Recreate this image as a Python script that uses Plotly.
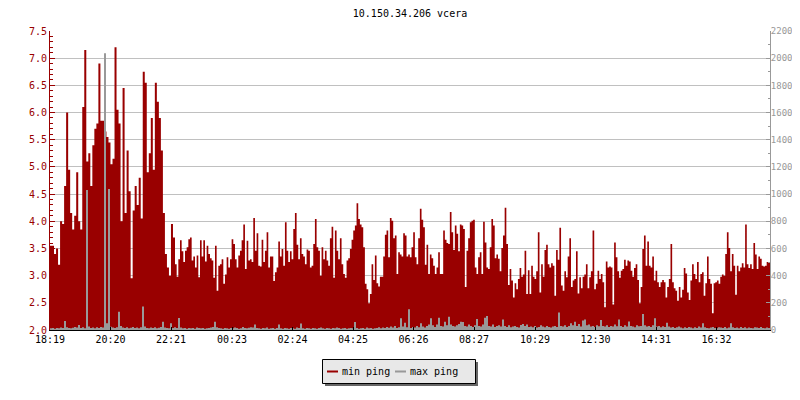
import plotly.graph_objects as go

# ---------------- data ----------------
title_text = "10.150.34.206 vcera"
start_label = "18:19"
day_minutes = 1440
tick_labels = ["18:19", "20:20", "22:21", "00:23", "02:24", "04:25",
               "06:26", "08:27", "10:29", "12:30", "14:31", "16:32"]

# min ping (left axis) in three consecutive stretches, each evenly sampled;
# spans are minutes after 18:19
min_ping_a_span = (0, 250)
min_ping_a = [
    3.55, 3.55, 3.4, 3.5, 3.2, 4.0, 3.95, 4.65, 6.0, 4.95,
    4.15, 3.85, 4.1, 4.9, 4.0, 3.85, 6.1, 7.15, 5.1, 5.25,
    4.65, 5.4, 5.7, 5.8, 6.9, 5.85, 5.85, 5.65, 5.55, 5.45,
    5.05, 5.15, 7.2, 6.05, 5.8, 4.0, 6.45, 4.15, 5.3, 4.55,
    2.95, 4.2, 4.65, 4.3, 4.8, 4.05, 6.75, 6.55, 4.9, 5.25,
    5.9, 4.95, 6.55, 6.2, 5.9, 5.3, 4.15, 3.4, 3.15, 3.0,
    3.95, 3.7,
]
min_ping_b_span = (250, 843)
min_ping_b = [
    3.21, 2.98, 3.3, 3.65, 3.45, 3.25, 3.46, 3.52, 3.67, 3.7, 3.28, 3.35, 3.15, 3.37, 2.97, 3.65, 3.35, 3.65, 3.26, 3.55,
    3.4, 3.32, 3.28, 2.96, 3.55, 2.72, 3.18, 3.21, 3.3, 2.85, 3.02, 3.34, 3.15, 3.3, 3.67, 3.58, 3.3, 3.15, 3.37, 3.46,
    3.65, 3.94, 3.12, 3.64, 3.28, 3.3, 3.25, 4.06, 3.46, 3.78, 3.18, 3.17, 3.66, 3.25, 3.46, 3.8, 3.15, 3.35, 3.35, 2.9,
    3.06, 3.15, 3.63, 3.35, 3.49, 3.18, 3.98, 3.46, 3.25, 3.45, 3.3, 3.86, 4.15, 3.57, 3.3, 3.69, 3.4, 3.35, 3.21, 3.48,
    3.46, 3.15, 3.18, 3.58, 4.04, 3.52, 3.46, 3.0, 3.52, 3.3, 3.46, 3.28, 3.18, 3.69, 3.9, 2.96, 3.83, 3.46, 3.3, 3.69,
    3.21, 3.03, 2.96, 3.28, 3.32, 3.49, 3.66, 3.83, 3.92, 4.33, 4.04, 3.94, 3.89, 3.52, 2.85, 2.75, 2.49, 2.66, 3.21, 2.92,
    3.37, 2.86, 2.8, 2.98, 2.98, 3.35, 3.75, 3.83, 3.34, 4.06, 4.01, 3.69, 3.74, 3.03, 3.43, 3.39, 3.35, 3.78, 3.74, 3.35,
    3.39, 3.34, 3.52, 3.8, 3.34, 3.21, 3.69, 4.23, 4.03, 3.89, 3.2, 3.57, 3.03, 3.39, 3.32, 3.18, 3.03, 3.15, 3.43, 3.03,
    3.03, 3.83, 3.66, 3.6, 3.58, 4.17, 3.8, 3.47, 3.92, 3.77, 3.45, 3.94, 3.92, 3.86, 2.79, 3.46, 3.69, 3.98,
]
min_ping_c_span = (843, 1440)
min_ping_c = [
    4.01, 4.03, 3.15, 3.03, 3.34, 3.43, 3.03, 3.99, 3.61, 3.15, 3.12, 3.52, 4.04, 3.92, 3.32, 3.39, 3.31, 3.08, 3.51, 3.74,
    4.25, 3.58, 2.83, 3.12, 2.91, 2.6, 2.86, 2.75, 2.94, 3.14, 2.98, 3.02, 3.46, 2.66, 3.1, 2.66, 3.18, 2.98, 2.94, 3.08,
    3.8, 2.69, 3.21, 2.98, 3.47, 3.57, 3.21, 3.15, 3.23, 3.18, 2.63, 3.47, 3.29, 3.88, 2.82, 2.72, 3.08, 2.97, 3.35, 3.69,
    2.79, 2.91, 2.94, 3.45, 2.67, 2.97, 2.77, 2.98, 3.02, 3.21, 2.77, 2.97, 3.08, 3.83, 2.75, 2.85, 3.09, 2.94, 3.03, 2.88,
    2.42, 3.26, 3.15, 3.17, 3.15, 2.47, 3.61, 3.34, 3.08, 2.96, 3.09, 3.12, 3.29, 3.18, 3.28, 3.26, 3.09, 2.98, 3.14, 3.21,
    2.92, 2.49, 2.79, 3.49, 3.74, 3.18, 3.63, 3.18, 3.15, 3.35, 2.91, 3.09, 2.88, 2.79, 2.88, 2.92, 2.88, 2.6, 2.79, 2.94,
    3.58, 2.88, 2.77, 2.72, 2.54, 2.79, 2.6, 2.74, 3.14, 3.04, 2.69, 2.55, 2.91, 3.21, 3.03, 2.94, 3.25, 2.88, 3.03, 3.06,
    2.63, 2.86, 3.35, 2.94, 2.85, 2.31, 2.86, 2.88, 2.91, 2.85, 2.98, 3.02, 3.0, 3.4, 3.8, 3.51, 3.08, 3.4, 3.18, 2.65,
    3.18, 3.08, 3.15, 3.23, 3.15, 3.94, 3.21, 3.14, 3.21, 3.12, 3.6, 3.39, 3.12, 3.35, 3.31, 3.18, 3.17, 3.18, 3.25, 3.25,
]

# max ping (right axis), 4-minute samples across the whole day
max_ping = [
    12, 15, 10, 14, 12, 18, 15, 66, 20, 14,
    12, 16, 22, 18, 37, 15, 20, 12, 1030, 25,
    14, 18, 12, 20, 15, 22, 18, 2036, 50, 1038,
    24, 18, 15, 20, 135, 30, 18, 14, 20, 12,
    16, 22, 14, 18, 12, 20, 172, 25, 15, 12,
    18, 14, 20, 12, 16, 22, 61, 18, 14, 12,
    50, 15, 20, 14, 88, 18, 12, 15, 10, 14,
    12, 15, 10, 18, 14, 12, 15, 10, 12, 14,
    18, 22, 60, 20, 15, 12, 10, 14, 12, 10,
    14, 12, 18, 15, 10, 12, 22, 14, 12, 16,
    20, 18, 40, 15, 12, 10, 14, 12, 18, 10,
    12, 15, 10, 14, 40, 12, 10, 15, 12, 10,
    14, 12, 10, 18, 15, 47, 12, 10, 14, 12,
    10, 15, 12, 10, 14, 18, 12, 10, 15, 12,
    10, 14, 12, 18, 15, 10, 12, 14, 10, 12,
    15, 12, 59, 14, 10, 12, 15, 10, 18, 12,
    14, 10, 12, 15, 20, 12, 18, 14, 22, 16,
    25, 18, 30, 15, 20, 86, 25, 54, 20, 152,
    15, 22, 18, 30, 20, 49, 25, 18, 30, 40,
    86, 35, 22, 40, 91, 30, 25, 60, 35, 98,
    40, 30, 25, 35, 45, 60, 58, 30, 25, 40,
    30, 22, 35, 81, 30, 25, 40, 91, 103, 30,
    25, 40, 22, 30, 35, 25, 78, 30, 22, 35,
    20, 25, 30, 22, 18, 37, 45, 30, 40, 22,
    25, 20, 30, 18, 22, 35, 25, 20, 30, 22,
    18, 25, 30, 22, 128, 30, 25, 35, 22, 30,
    50, 35, 60, 30, 45, 25, 70, 78, 35, 40,
    25, 30, 22, 35, 28, 74, 30, 25, 35, 22,
    30, 25, 40, 28, 78, 30, 22, 35, 25, 63,
    30, 25, 20, 35, 28, 30, 118, 35, 25, 30,
    22, 35, 86, 25, 30, 20, 28, 22, 54, 25,
    18, 22, 15, 20, 25, 18, 12, 20, 15, 22,
    18, 12, 20, 15, 25, 18, 49, 20, 15, 12,
    18, 22, 15, 12, 20, 18, 15, 22, 12, 18,
    49, 20, 15, 18, 12, 22, 15, 20, 12, 18,
    15, 12, 20, 18, 14, 22, 15, 12, 18, 15,
]

# ---------------- styling ----------------
RED = "#990000"
GRAY = "#999999"
FONT = "DejaVu Sans Mono"

# page body has an 8px margin, so the figure sits at (8, 8) on the page
OFF = 8
W, H = 800 - OFF, 400 - OFF
# plot area wanted on the page: x 50..770, y 31..330
PL, PR, PT, PB = 50, 770, 31, 330
ML, MR, MT, MB = PL - OFF, W - (PR - OFF), PT - OFF, H - (PB - OFF)


def clock_to_offset(label, start):
    h, m = map(int, label.split(":"))
    sh, sm = map(int, start.split(":"))
    d = (h * 60 + m) - (sh * 60 + sm)
    return d + day_minutes if d < 0 else d


def sample_starts(values, span):
    t0, t1 = span
    step = (t1 - t0) / len(values)
    return [t0 + i * step for i in range(len(values))]


min_x, min_y = [], []
for vals, span in ((min_ping_a, min_ping_a_span),
                   (min_ping_b, min_ping_b_span),
                   (min_ping_c, min_ping_c_span)):
    min_x += sample_starts(vals, span)
    min_y += vals
min_x.append(min_ping_c_span[1])
min_y.append(min_ping_c[-1])

max_x = sample_starts(max_ping, (0, day_minutes)) + [day_minutes]
max_y = max_ping + [max_ping[-1]]

tick_vals = [clock_to_offset(t, start_label) for t in tick_labels]

fig = go.Figure()
fig.add_trace(go.Scatter(
    x=min_x, y=min_y, mode="lines", line=dict(shape="hv", width=0, color=RED),
    fill="tozeroy", fillcolor=RED, name="min ping", showlegend=False,
    hoverinfo="skip"))
fig.add_trace(go.Scatter(
    x=max_x, y=max_y, mode="lines", line=dict(shape="hv", width=0, color=GRAY),
    fill="tozeroy", fillcolor=GRAY,
    name="max ping", yaxis="y2", showlegend=False, hoverinfo="skip"))


def fx(px):
    return (px - PL) / (PR - PL)


def fy(py):
    return (PB - py) / (PB - PT)


# legend drawn by hand (box with shadow); coordinates in page pixels
shapes = [
    dict(type="rect", xref="paper", yref="paper", layer="above",
         x0=fx(325), x1=fx(478), y0=fy(386), y1=fy(362),
         fillcolor="#666666", line=dict(width=0)),
    dict(type="rect", xref="paper", yref="paper", layer="above",
         x0=fx(322.5), x1=fx(475.5), y0=fy(383.5), y1=fy(359.5),
         fillcolor="#e8e8e8", line=dict(color="black", width=1)),
    dict(type="line", xref="paper", yref="paper", layer="above",
         x0=fx(327), x1=fx(338), y0=fy(371.5), y1=fy(371.5),
         line=dict(color=RED, width=2)),
    dict(type="line", xref="paper", yref="paper", layer="above",
         x0=fx(395), x1=fx(406), y0=fy(371.5), y1=fy(371.5),
         line=dict(color=GRAY, width=2)),
]
annotations = [
    dict(text="min ping", xref="paper", yref="paper", x=fx(340), y=fy(371),
         xanchor="left", yanchor="middle", showarrow=False,
         font=dict(family=FONT, size=10, color="black")),
    dict(text="max ping", xref="paper", yref="paper", x=fx(408), y=fy(371),
         xanchor="left", yanchor="middle", showarrow=False,
         font=dict(family=FONT, size=10, color="black")),
]

fig.update_layout(
    width=W, height=H,
    margin=dict(l=ML, r=MR, t=MT, b=MB, pad=0, autoexpand=False),
    paper_bgcolor="white", plot_bgcolor="white",
    title=dict(text=title_text, x=0.5, xref="paper", xanchor="center",
               y=1 - (13 - OFF) / H, yref="container", yanchor="middle",
               font=dict(family=FONT, size=10, color="black")),
    shapes=shapes, annotations=annotations,
    showlegend=False,
    xaxis=dict(range=[0, day_minutes], tickvals=tick_vals, ticktext=tick_labels,
               ticks="inside", ticklen=3, tickcolor="black", tickwidth=1,
               showline=True, linecolor="black", linewidth=1,
               showgrid=False, zeroline=False,
               tickfont=dict(family=FONT, size=10, color="black")),
    yaxis=dict(range=[2.0, 7.5], dtick=0.5, tick0=2.0, tickformat=".1f",
               ticks="inside", ticklen=5, tickcolor=RED, tickwidth=1,
               showline=True, linecolor=RED, linewidth=1,
               showgrid=True, gridcolor="#c0c0c0", gridwidth=1, zeroline=False,
               minor=dict(dtick=0.1, ticks="inside", ticklen=3, tickcolor=RED,
                          showgrid=False),
               tickfont=dict(family=FONT, size=10, color=RED)),
    yaxis2=dict(range=[0, 2200], dtick=200, tick0=0, overlaying="y", side="right",
                ticks="inside", ticklen=4, tickcolor=GRAY, tickwidth=1,
                showline=True, linecolor=GRAY, linewidth=1,
                ticklabelstandoff=-2,
                showgrid=False, zeroline=False,
                minor=dict(dtick=100, ticks="inside", ticklen=2, tickcolor=GRAY,
                           showgrid=False),
                tickfont=dict(family=FONT, size=9, color=GRAY)),
)

fig.write_html("out.html")
